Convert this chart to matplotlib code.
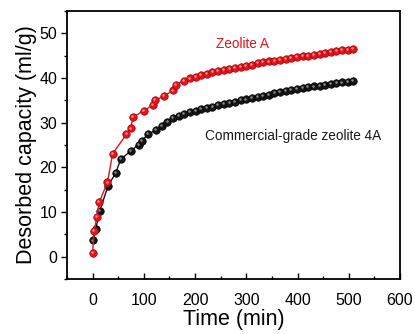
import matplotlib.pyplot as plt
import matplotlib.transforms as mtransforms
from matplotlib.ticker import MultipleLocator

# Zeolite A desorption (time in min, capacity in ml/g)
zeolite_a_t = [0, 3, 8, 13, 29, 39, 66, 74, 79, 100, 117, 122, 140, 157, 162, 178,
               190, 201, 212, 223, 234, 245, 256, 267, 278, 289, 300, 311, 322, 333,
               344, 355, 366, 377, 388, 399, 410, 421, 432, 443, 454, 465, 476, 487,
               498, 508]
zeolite_a_q = [0.9, 5.7, 8.8, 12.2, 16.6, 23.0, 27.4, 28.7, 31.2, 32.7, 33.9, 35.0,
               36.0, 37.2, 38.4, 39.4, 39.9, 40.2, 40.6, 40.9, 41.3, 41.6, 41.9, 42.1,
               42.3, 42.5, 42.7, 43.0, 43.3, 43.5, 43.7, 43.9, 44.1, 44.3, 44.5, 44.7,
               44.9, 45.0, 45.2, 45.4, 45.6, 45.8, 46.0, 46.2, 46.3, 46.5]

# commercial-grade zeolite 4A
commercial_t = [0, 6, 14, 30, 45, 55, 75, 90, 96, 108, 123, 135, 146, 157, 168, 179,
                190, 201, 212, 223, 234, 245, 256, 267, 278, 289, 300, 311, 322, 333,
                344, 355, 366, 377, 388, 399, 410, 421, 432, 443, 454, 465, 476, 487,
                498, 508]
commercial_q = [3.6, 6.2, 10.2, 15.8, 18.7, 21.8, 23.7, 25.1, 25.9, 27.4, 28.3, 29.3,
                30.2, 31.0, 31.5, 31.9, 32.4, 32.7, 33.0, 33.3, 33.6, 33.9, 34.2, 34.4,
                34.7, 35.0, 35.2, 35.5, 35.8, 36.0, 36.3, 36.6, 36.9, 37.1, 37.3, 37.5,
                37.7, 37.9, 38.1, 38.3, 38.5, 38.7, 38.9, 39.0, 39.2, 39.3]

plt.rcParams['font.family'] = ['Liberation Sans', 'DejaVu Sans']

fig = plt.figure(figsize=(4.15, 3.34), dpi=100)
ax = fig.add_axes([0.1614, 0.165, 0.8025, 0.802])


def ball_series(x, y, base, edge, shine, zorder):
    # line + marker, then a small offset highlight to give the beads a shaded look
    ax.plot(x, y, '-', color=base, lw=1.0, zorder=zorder)
    ax.plot(x, y, 'o', ms=5.4, mfc=base, mec=edge, mew=0.5, zorder=zorder + 0.1)
    shift = mtransforms.offset_copy(ax.transData, fig=fig, x=-0.9, y=0.9, units='dots')
    ax.plot(x, y, 'o', ms=1.8, mfc=shine, mec='none', transform=shift,
            zorder=zorder + 0.2)


ball_series(commercial_t, commercial_q, '#151515', '#000000', '#8a8a8a', 3)
ball_series(zeolite_a_t, zeolite_a_q, '#e3141c', '#a30008', '#ff8f8f', 4)

ax.text(292, 47.6, 'Zeolite A', color='#e3141c', fontsize=9.8, ha='center', va='center')
ax.text(391, 27.0, 'Commercial-grade zeolite 4A', color='#1a1a1a', fontsize=9.8,
        ha='center', va='center')

ax.set_xlim(-50, 600)
ax.set_ylim(-5, 55)
ax.xaxis.set_major_locator(MultipleLocator(100))
ax.xaxis.set_minor_locator(MultipleLocator(50))
ax.yaxis.set_major_locator(MultipleLocator(10))
ax.yaxis.set_minor_locator(MultipleLocator(5))

ax.tick_params(axis='x', which='both', direction='in', labelsize=11.5, pad=10)
ax.tick_params(axis='y', which='both', direction='out', labelsize=11.5, pad=3)
ax.tick_params(which='major', length=4, width=1.0)
ax.tick_params(which='minor', length=2.5, width=1.0)
for sp in ax.spines.values():
    sp.set_linewidth(1.3)

ax.set_xlabel('Time (min)', fontsize=15.5, labelpad=1)
ax.set_ylabel('Desorbed capacity (ml/g)', fontsize=15.5, labelpad=2)

fig.savefig('out.png', dpi=100)
